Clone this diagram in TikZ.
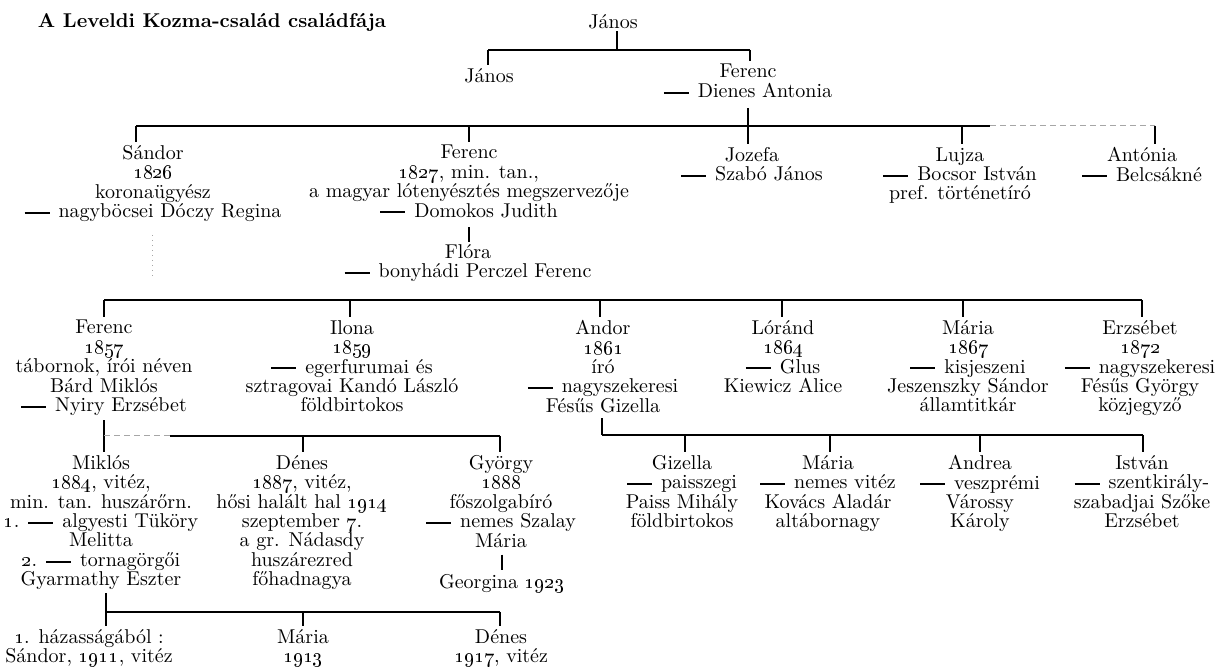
\documentclass[tikz,border=0pt]{standalone}
\usepackage{tikz}

\newcommand{\yr}[1]{\oldstylenums{#1}}
\newcommand{\wed}{\rule[1.9pt]{12.5pt}{1pt}\hspace{4.5pt}}
\newcommand{\treefont}{\fontsize{10}{9.7}\selectfont\lineskiplimit=-\maxdimen\relax}

\tikzset{
  every node/.style={font=\treefont},
  person/.style={align=center, anchor=north, inner sep=0pt},
  bar/.style={line width=0.65pt},
  kid/.style={line width=0.55pt, shorten >=1.5pt},
  parent/.style={line width=0.55pt, shorten <=#1},
  parent/.default=1pt,
  worn/.style={line width=0.5pt, gray!70, densely dashed},
}

\begin{document}
\begin{tikzpicture}[x=0.5pt,y=0.5pt,yscale=-1]
\useasboundingbox (0,0) rectangle (1227,667);

% Title
\node (title) at (212,22) {\bfseries A Leveldi Kozma-család családfája};

% Text Node
\node[person] (janos0) at (613,14) {János};
% Text Node
\node[person] (janos1) at (489,68) {János};
% Text Node
\node[person] (ferenc1) at (748,64) {Ferenc\\\wed Dienes Antonia};

% Text Node
\node[person] (sandor) at (153,145) {Sándor\\\yr{1826}\\koronaügyész\\\wed nagyböcsei Dóczy Regina};
% Text Node
\node[person] (ferenc2) at (469,145) {Ferenc\\\yr{1827}, min. tan.,\\a magyar lótenyésztés megszervezője\\\wed Domokos Judith};
% Text Node
\node[person] (jozefa) at (752,147) {Jozefa\\\wed Szabó János};
% Text Node
\node[person] (lujza) at (960,147) {Lujza\\\wed Bocsor István\\pref. történetíró};
% Text Node
\node[person] (antonia) at (1142,147) {Antónia\\\wed Belcsákné};
% Text Node
\node[person] (flora) at (468,244) {Flóra\\\wed bonyhádi Perczel Ferenc};

% Text Node
\node[person] (ferenc3) at (104,320) {Ferenc\\\yr{1857}\\tábornok, írói néven\\Bárd Miklós\\\wed Nyiry Erzsébet};
% Text Node
\node[person] (ilona) at (352,320) {Ilona\\\yr{1859}\\\wed egerfurumai és\\sztragovai Kandó László\\földbirtokos};
% Text Node
\node[person] (andor) at (603,320) {Andor\\\yr{1861}\\író\\\wed nagyszekeresi\\Fésűs Gizella};
% Text Node
\node[person] (lorand) at (783,320) {Lóránd\\\yr{1864}\\\wed Glus\\Kiewicz Alice};
% Text Node
\node[person] (maria1) at (968,320) {Mária\\\yr{1867}\\\wed kisjeszeni\\Jeszenszky Sándor\\államtitkár};
% Text Node
\node[person] (erzsebet) at (1140,320) {Erzsébet\\\yr{1872}\\\wed nagyszekeresi\\Fésűs György\\közjegyző};

% Text Node
\node[person] (miklos) at (101,455) {Miklós\\\yr{1884}, vitéz,\\min. tan. huszárőrn.\\\yr{1}. \wed algyesti Tüköry\\Melitta\\\yr{2}. \wed tornagörgői\\Gyarmathy Eszter};
% Text Node
\node[person] (denes1) at (302,455) {Dénes\\\yr{1887}, vitéz,\\hősi halált hal \yr{1914}\\szeptember \yr{7}.\\a gr. Nádasdy\\huszárezred\\főhadnagya};
% Text Node
\node[person] (gyorgy) at (501,455) {György\\\yr{1888}\\főszolgabíró\\\wed nemes Szalay\\Mária};
% Text Node
\node[person] (georgina) at (502,574) {Georgina \yr{1923}};
% Text Node
\node[person] (gizella) at (682,455) {Gizella\\\wed paisszegi\\Paiss Mihály\\földbirtokos};
% Text Node
\node[person] (maria2) at (828,455) {Mária\\\wed nemes vitéz\\Kovács Aladár\\altábornagy};
% Text Node
\node[person] (andrea) at (980,455) {Andrea\\\wed veszprémi\\Várossy\\Károly};
% Text Node
\node[person] (istvan) at (1142,455) {István\\\wed szentkirály-\\szabadjai Szőke\\Erzsébet};

% Text Node
\node[person] (sandor2) at (89,629) {\yr{1}. házasságából :\\Sándor, \yr{1911}, vitéz};
% Text Node
\node[person] (maria3) at (303,629) {Mária\\\yr{1913}};
% Text Node
\node[person] (denes2) at (501,629) {Dénes\\\yr{1917}, vitéz};

% Connection: János
\coordinate (b0) at (617,50);
\coordinate (b0l) at (488,50);
\coordinate (b0r) at (750,50);
\draw[parent] (janos0.south -| b0) -- (b0);
\draw[bar] (b0l) -- (b0r);
\draw[kid] (b0l) -- (b0l |- janos1.north);
\draw[kid] (b0r) -- (b0r |- ferenc1.north);

% Connection: Ferenc and Dienes Antonia
\coordinate (b1) at (748,126);
\coordinate (b1l) at (136,126);
\coordinate (b1m) at (990,126);
\coordinate (b1r) at (1155,126);
\coordinate (t-ferenc2) at (469,126);
\coordinate (t-lujza) at (962,126);
\draw[parent=5pt] (ferenc1.south -| b1) -- (b1);
\draw[bar] (b1l) -- (b1m);
\draw[worn] (b1m) -- (b1r);
\draw[kid] (b1l) -- (b1l |- sandor.north);
\draw[kid] (t-ferenc2) -- (t-ferenc2 |- ferenc2.north);
\draw[kid] (b1) -- (b1 |- jozefa.north);
\draw[kid] (t-lujza) -- (t-lujza |- lujza.north);
\draw[kid] (b1r) -- (b1r |- antonia.north);

% Connection: Ferenc and Domokos Judith
\draw[parent=4.5pt, shorten >=1pt] (ferenc2.south) -- (flora.north -| ferenc2.south);
\coordinate (sd1) at (152,235);
\coordinate (sd2) at (152,277);
\draw[worn, dotted] (sd1) -- (sd2);

% Connection: Flóra and Perczel Ferenc
\coordinate (b2l) at (104,300);
\coordinate (b2r) at (1142,300);
\coordinate (t-ilona) at (350,300);
\coordinate (t-andor) at (600,300);
\coordinate (t-lorand) at (782,300);
\coordinate (t-maria1) at (963,300);
\draw[bar] (b2l) -- (b2r);
\draw[kid] (b2l) -- (b2l |- ferenc3.north);
\draw[kid] (t-ilona) -- (t-ilona |- ilona.north);
\draw[kid] (t-andor) -- (t-andor |- andor.north);
\draw[kid] (t-lorand) -- (t-lorand |- lorand.north);
\draw[kid] (t-maria1) -- (t-maria1 |- maria1.north);
\draw[kid] (b2r) -- (b2r |- erzsebet.north);

% Connection: Ferenc and Nyiry Erzsébet
\coordinate (b3l) at (104,436);
\coordinate (b3w) at (170,436);
\coordinate (b3r) at (500,436);
\coordinate (t-denes1) at (303,436);
\draw[kid, shorten <=2pt] (ferenc3.south) -- (miklos.north -| ferenc3.south);
\draw[worn] (b3l) -- (b3w);
\draw[bar] (b3w) -- (b3r);
\draw[kid] (t-denes1) -- (t-denes1 |- denes1.north);
\draw[kid] (b3r) -- (b3r |- gyorgy.north);

% Connection: György and Szalay Mária
\draw[parent=3.5pt, shorten >=2pt] (gyorgy.south -| georgina.north) -- (georgina.north);

% Connection: Andor and Fésűs Gizella
\coordinate (b4l) at (602,435);
\coordinate (b4r) at (1143,435);
\coordinate (t-gizella) at (685,435);
\coordinate (t-maria2) at (830,435);
\coordinate (t-andrea) at (980,435);
\draw[parent=2.5pt] (andor.south -| b4l) -- (b4l);
\draw[bar] (b4l) -- (b4r);
\draw[kid] (t-gizella) -- (t-gizella |- gizella.north);
\draw[kid] (t-maria2) -- (t-maria2 |- maria2.north);
\draw[kid] (t-andrea) -- (t-andrea |- andrea.north);
\draw[kid] (b4r) -- (b4r |- istvan.north);

% Connection: Miklós
\coordinate (b5l) at (106,612);
\coordinate (b5r) at (500,612);
\coordinate (t-maria3) at (303,612);
\draw[parent=1.5pt] (miklos.south -| b5l) -- (b5l);
\draw[bar] (b5l) -- (b5r);
\draw[kid] (b5l) -- (b5l |- sandor2.north);
\draw[kid] (t-maria3) -- (t-maria3 |- maria3.north);
\draw[kid] (b5r) -- (b5r |- denes2.north);

\end{tikzpicture}
\end{document}
